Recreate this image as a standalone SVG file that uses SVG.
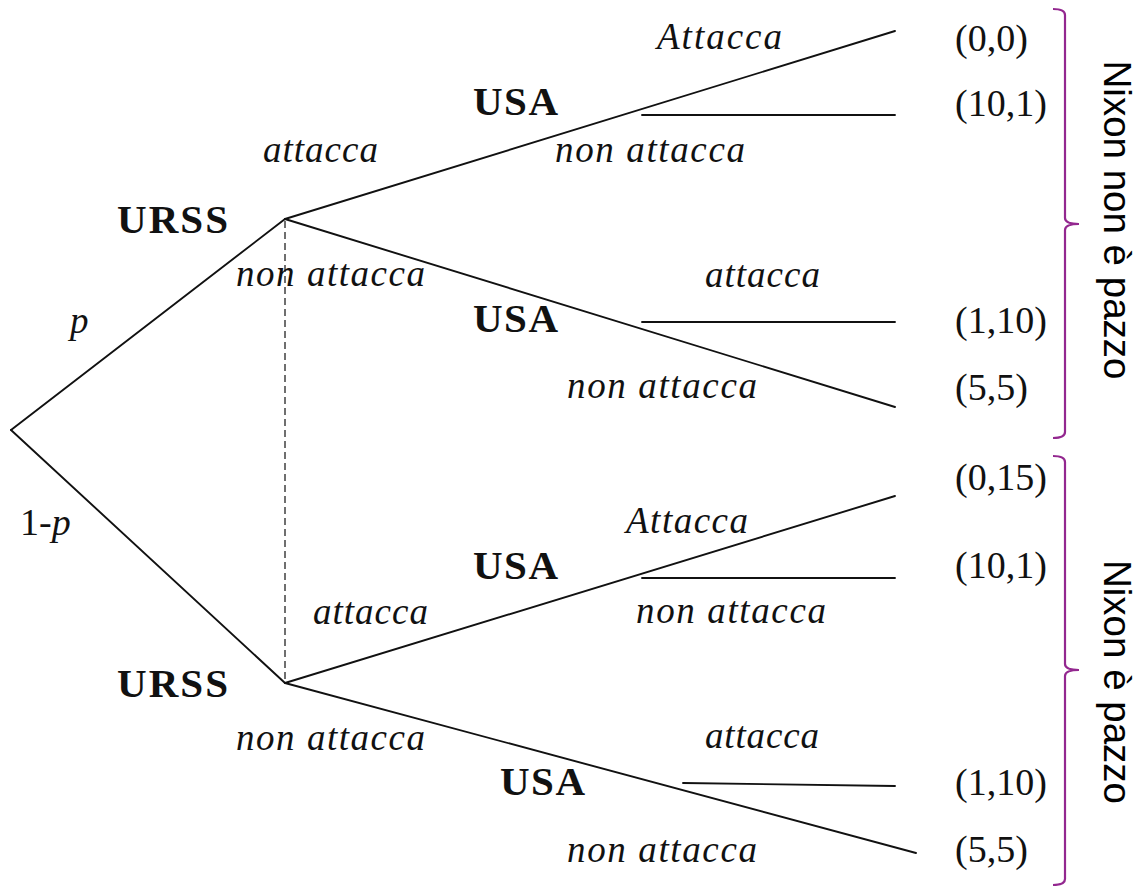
<svg xmlns="http://www.w3.org/2000/svg" width="1140" height="886" viewBox="0 0 1140 886">
<style>
  .edge{stroke:#111;stroke-width:1.9;fill:none;stroke-linecap:round}
  .info{stroke:#333;stroke-width:1.4;stroke-dasharray:7 4;fill:none}
  .lbl{font-family:"Liberation Serif",serif;font-style:italic;font-size:37px;fill:#111}
  .node{font-family:"Liberation Serif",serif;font-weight:bold;font-size:41px;fill:#111}
  .pay{font-family:"Liberation Serif",serif;font-size:38px;fill:#111}
  .brace{stroke:#93278f;stroke-width:2.2;fill:none}
  .side{font-family:"Liberation Sans",Arial,sans-serif;font-size:38.5px;fill:#000}
</style>
<rect width="1140" height="886" fill="#fff"/>
<g id="connectors">
  <line class="edge" x1="11" y1="430" x2="285" y2="219"/>
  <line class="edge" x1="11" y1="430" x2="285" y2="683"/>
  <line class="edge" x1="285" y1="219" x2="895" y2="31"/>
  <line class="edge" x1="642" y1="115" x2="895" y2="115"/>
  <line class="edge" x1="285" y1="219" x2="895" y2="407"/>
  <line class="edge" x1="642" y1="322" x2="895" y2="322"/>
  <line class="edge" x1="285" y1="683" x2="895" y2="496"/>
  <line class="edge" x1="642" y1="578" x2="895" y2="578"/>
  <line class="edge" x1="285" y1="683" x2="916" y2="853"/>
  <line class="edge" x1="683" y1="783" x2="895" y2="786"/>
  <line class="info" x1="285" y1="221" x2="285" y2="681"/>
</g>
<g id="edge-labels">
  <text class="lbl" x="70" y="333">p</text>
  <text class="pay" x="20" y="535">1-<tspan font-style="italic">p</tspan></text>
  <text class="lbl" x="263" y="162" textLength="115">attacca</text>
  <text class="lbl" x="236" y="286" textLength="189">non attacca</text>
  <text class="lbl" x="657" y="49" textLength="125">Attacca</text>
  <text class="lbl" x="555" y="162" textLength="190">non attacca</text>
  <text class="lbl" x="705" y="287" textLength="115">attacca</text>
  <text class="lbl" x="567" y="398" textLength="190">non attacca</text>
  <text class="lbl" x="313" y="624" textLength="115">attacca</text>
  <text class="lbl" x="236" y="750" textLength="189">non attacca</text>
  <text class="lbl" x="626" y="533" textLength="122">Attacca</text>
  <text class="lbl" x="636" y="623" textLength="190">non attacca</text>
  <text class="lbl" x="705" y="748" textLength="114">attacca</text>
  <text class="lbl" x="567" y="862" textLength="190">non attacca</text>
</g>
<g id="urss-1"><text class="node" x="117" y="233" textLength="111">URSS</text></g>
<g id="urss-2"><text class="node" x="117" y="697" textLength="111">URSS</text></g>
<g id="usa-1"><text class="node" x="473" y="115" textLength="85">USA</text></g>
<g id="usa-2"><text class="node" x="473" y="332" textLength="85">USA</text></g>
<g id="usa-3"><text class="node" x="473" y="579" textLength="85">USA</text></g>
<g id="usa-4"><text class="node" x="500" y="795" textLength="85">USA</text></g>
<g id="payoffs">
  <text class="pay" x="955" y="51">(0,0)</text>
  <text class="pay" x="955" y="116">(10,1)</text>
  <text class="pay" x="955" y="333">(1,10)</text>
  <text class="pay" x="955" y="400">(5,5)</text>
  <text class="pay" x="955" y="490">(0,15)</text>
  <text class="pay" x="955" y="578">(10,1)</text>
  <text class="pay" x="955" y="795">(1,10)</text>
  <text class="pay" x="955" y="862">(5,5)</text>
</g>
<g id="brace-sane">
  <path class="brace" d="M1053,9 Q1065,9 1065,15 V218 Q1065,224 1079,224 Q1065,224 1065,230 V432 Q1065,438 1053,438"/>
  <text class="side" transform="translate(1104,220) rotate(90)" text-anchor="middle">Nixon non è pazzo</text>
</g>
<g id="brace-mad">
  <path class="brace" d="M1053,456 Q1065,456 1065,462 V664 Q1065,670 1079,670 Q1065,670 1065,676 V879 Q1065,885 1053,885"/>
  <text class="side" transform="translate(1104,682) rotate(90)" text-anchor="middle">Nixon è pazzo</text>
</g>
</svg>
